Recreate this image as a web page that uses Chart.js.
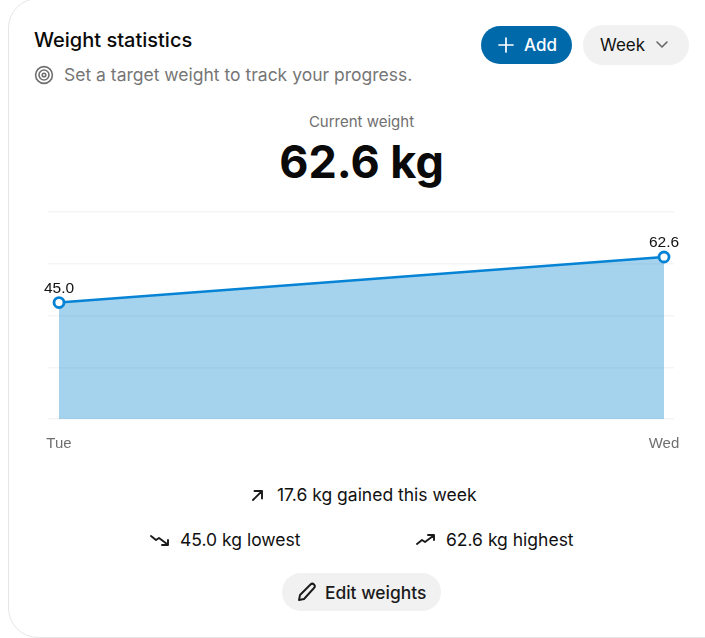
<!DOCTYPE html>
<html>
<head>
  <meta charset="UTF-8">
  <title>Weight statistics</title>
  <script src="https://cdn.jsdelivr.net/npm/chart.js"></script>
  <style>
    html, body { margin: 0; padding: 0; background: #fff; overflow: hidden; }
    body { width: 705px; height: 638px; position: relative; font-family: Inter, sans-serif; color: #111; }
    .card { position: absolute; left: 8px; top: -2px; width: 740px; height: 640px; box-sizing: border-box; border: 1.5px solid #e6e6e6; border-radius: 30px; }
    .t { position: absolute; white-space: nowrap; line-height: 1; }
    .icon { position: absolute; fill: none; stroke: #1a1a1a; stroke-width: 1.9; stroke-linecap: round; stroke-linejoin: round; }
    .pill { position: absolute; border-radius: 20px; }
    #chartBox { position: absolute; left: 0; top: 190px; width: 705px; height: 270px; }
  </style>
</head>
<body>
  <div class="card"></div>

  <div class="t" style="left:34px;top:30px;font-size:20px;font-weight:500;color:#0a0a0a">Weight statistics</div>
  <svg class="icon" style="left:34px;top:65px;stroke:#6f6f6f;stroke-width:1.6" width="20" height="20" viewBox="0 0 20 20">
    <circle cx="10" cy="10" r="8.4"/><circle cx="10" cy="10" r="5"/><circle cx="10" cy="10" r="1.8"/>
  </svg>
  <div class="t" style="left:64px;top:66px;font-size:17.5px;color:#767676">Set a target weight to track your progress.</div>

  <div class="pill" style="left:481px;top:26px;width:91px;height:38px;background:#0069aa"></div>
  <svg class="icon" style="left:497px;top:36px;stroke:#fff;stroke-width:1.7" width="18" height="18" viewBox="0 0 18 18"><path d="M9 2v14M2 9h14"/></svg>
  <div class="t" style="left:524px;top:37px;font-size:17px;font-weight:500;color:#fff">Add</div>
  <div class="pill" style="left:583px;top:25px;width:106px;height:40px;background:#f1f1f1"></div>
  <div class="t" style="left:600px;top:37px;font-size:17px;color:#111">Week</div>
  <svg class="icon" style="left:655px;top:39px;stroke:#666;stroke-width:1.6" width="14" height="12" viewBox="0 0 14 12"><path d="M2 3l5 5 5-5"/></svg>

  <div class="t" style="left:0;width:723px;text-align:center;top:114px;font-size:15px;color:#6f6f6f">Current weight</div>
  <div class="t" style="left:0;width:723px;text-align:center;top:139px;font-size:45px;font-weight:700;color:#0a0a0a">62.6 kg</div>

  <div id="chartBox"><canvas id="weightChart"></canvas></div>

  <svg class="icon" style="left:249px;top:487px" width="16" height="16" viewBox="0 0 16 16"><path d="M4 13L13 4M5.5 4H13v7.5"/></svg>
  <div class="t" style="left:277px;top:486px;font-size:17.5px">17.6 kg gained this week</div>

  <svg class="icon" style="left:150px;top:532px" width="20" height="16" viewBox="0 0 20 16"><path d="M1 4l5 4 3-2 8 6M12 13h6V8"/></svg>
  <div class="t" style="left:180px;top:531px;font-size:17.5px">45.0 kg lowest</div>
  <svg class="icon" style="left:416px;top:532px" width="20" height="16" viewBox="0 0 20 16"><path d="M1 12l5-4 3 2 8-6M12 3h6v5"/></svg>
  <div class="t" style="left:446px;top:531px;font-size:17.5px">62.6 kg highest</div>

  <div class="pill" style="left:282px;top:573px;width:159px;height:38px;background:#f1f1f1"></div>
  <svg class="icon" style="left:297px;top:582px" width="20" height="20" viewBox="0 0 20 20"><path d="M2 18l1-5L13.5 2.5a2.1 2.1 0 0 1 3.5 3.5L7 17z"/></svg>
  <div class="t" style="left:325px;top:584px;font-size:17.4px;font-weight:500;color:#1a1a1a">Edit weights</div>

  <script>
    const days = ['Tue', 'Wed'];
    const positions = [0, 1];
    const weights = [45.0, 62.6];
    const yTicks = [0, 20, 40, 60, 80];

    // value labels above the two points
    const valueLabels = {
      id: 'valueLabels',
      afterDatasetsDraw(chart) {
        const c = chart.ctx;
        c.save();
        c.font = '15.5px "Liberation Sans", Arial, sans-serif';
        c.fillStyle = '#111';
        c.textAlign = 'center';
        c.textBaseline = 'alphabetic';
        chart.getDatasetMeta(0).data.forEach((pt, i) => {
          c.fillText(weights[i].toFixed(1), pt.x, pt.y - 10);
        });
        c.restore();
      }
    };

    new Chart(document.getElementById('weightChart').getContext('2d'), {
      type: 'line',
      data: {
        datasets: [{
          data: positions.map((x, i) => ({ x: x, y: weights[i] })),
          borderColor: '#0683d4',
          borderWidth: 2.5,
          backgroundColor: 'rgba(30, 145, 212, 0.4)',
          fill: 'origin',
          tension: 0,
          pointRadius: 5,
          pointBorderWidth: 2.8,
          pointBackgroundColor: '#fff',
          pointBorderColor: '#0683d4',
          clip: false
        }]
      },
      options: {
        responsive: true,
        maintainAspectRatio: false,
        animation: false,
        layout: { padding: { left: 48, right: 31, top: 22, bottom: 0 } },
        plugins: { legend: { display: false }, tooltip: { enabled: false } },
        scales: {
          x: {
            type: 'linear',
            min: -0.0182,
            max: 1.0165,
            afterBuildTicks: s => { s.ticks = positions.map(v => ({ value: v })); },
            afterFit: s => { s.height = 41; },
            grid: { display: false },
            border: { display: false },
            ticks: {
              autoSkip: false,
              maxRotation: 0,
              padding: 8,
              color: '#6f6f6f',
              font: { family: '"Liberation Sans", Arial, sans-serif', size: 15 },
              callback: v => days[positions.indexOf(v)]
            }
          },
          y: {
            min: 0,
            max: 80,
            afterBuildTicks: s => { s.ticks = yTicks.map(v => ({ value: v })); },
            afterFit: s => { s.width = 0; },
            grid: { color: '#f5f5f5', lineWidth: 1.5, drawTicks: false },
            border: { display: false },
            ticks: { display: false }
          }
        }
      },
      plugins: [valueLabels]
    });
  </script>
</body>
</html>
